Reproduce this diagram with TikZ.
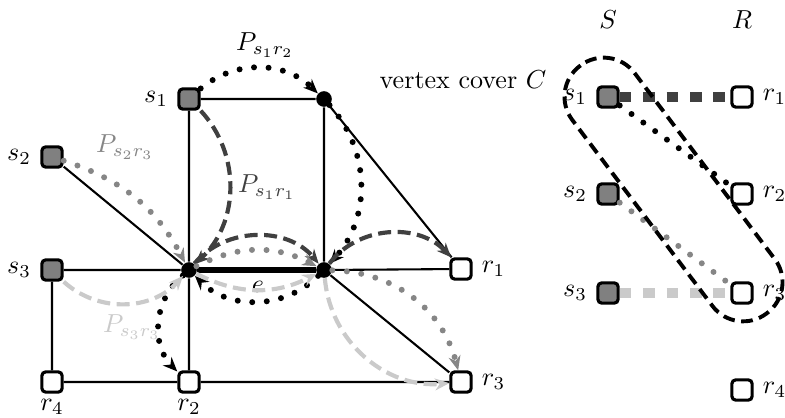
\documentclass[tikz,border=0pt]{standalone}
\usepackage{amsmath,amssymb}
\usepackage{xcolor}
\usepackage{tikz}
\usetikzlibrary{arrows.meta,positioning}
\definecolor{pathdark}{HTML}{404040}
\definecolor{pathmid}{HTML}{868686}
\definecolor{pathlight}{HTML}{CACACA}
\definecolor{srcgray}{HTML}{808080}

\begin{document}
\begin{tikzpicture}[
  x=0.0135cm,y=-0.0135cm,
  src/.style={draw,line width=1.2pt,rounded corners=1.5pt,fill=srcgray,minimum size=7.8pt,inner sep=0pt},
  dst/.style={src,fill=white},
  hub/.style={circle,fill=black,minimum size=6pt,inner sep=0pt},
  edge/.style={line width=0.8pt},
  dotline/.style={line width=2.3pt,line cap=round,dash pattern=on 0pt off 5.6pt},
  dashline/.style={line width=1.6pt,dash pattern=on 5pt off 2.5pt},
  tip/.style={-{Stealth[length=5.5pt,width=4.6pt]}},
  fatdash/.style={line width=3.8pt,dash pattern=on 4.5pt off 4.5pt},
  cover/.style={line width=1.5pt,dash pattern=on 4.5pt off 2.5pt}
]
\useasboundingbox (0,0) rectangle (785,418);

% graph
\node[src,label=left:$s_1$] (s1) at (189,99) {};
\node[hub] (top) at (324,99) {};
\node[src,label=left:$s_2$] (s2) at (52,157) {};
\node[src,label=left:$s_3$] (s3) at (52,270) {};
\node[hub] (mid1) at (189,270) {};
\node[hub] (mid2) at (324,270) {};
\node[dst,label=right:$r_1$] (r1) at (461,269) {};
\node[dst,label={[label distance=-1.2pt]below:$r_4$}] (r4) at (52,382) {};
\node[dst,label={[label distance=-1.2pt]below:$r_2$}] (r2) at (189,382) {};
\node[dst,label=right:$r_3$] (r3) at (461,382) {};

\draw[edge] (s1) -- (top) (s1) -- (mid1) (mid1) -- (r2) (top) -- (mid2)
  (top) -- (r1) (s2) -- (mid1) (s3) -- (mid1) (mid2) -- (r1) (mid2) -- (r3)
  (s3) -- (r4) (r4) -- (r2) (r2) -- (r3);
\draw[line width=2.2pt] (mid1) -- (mid2);
\node (elabel) at (258,287) {$e$};

% P_{s1r2}
\draw[dotline,tip,black] (s1) to[bend left=42] (top);
\draw[dotline,tip,black] (top) to[bend left=42] (mid2);
\draw[dotline,tip,black] (mid2) to[bend left=45] (mid1);
\draw[dotline,tip,black] (mid1) to[bend right=48] (r2);
\node (ps1r2) at (265,45) {$P_{s_1r_2}$};

% P_{s1r1}
\draw[dashline,tip,pathdark] (s1) to[bend left=45] (mid1);
\draw[dashline,tip,pathdark] (mid1) to[bend left=50] (mid2);
\draw[dashline,tip,pathdark] (mid2) to[bend left=50] (r1);
\node[text=pathdark] (ps1r1) at (267,187) {$P_{s_1r_1}$};

% P_{s2r3}
\draw[dotline,tip,pathmid] (s2) to[bend left=22] (mid1);
\draw[dotline,tip,pathmid] (mid1) to[bend left=27] (mid2);
\draw[dotline,tip,pathmid] (mid2) to[bend left=37] (r3);
\node[text=pathmid] (ps2r3) at (125,147) {$P_{s_2r_3}$};

% P_{s3r3}
\draw[dashline,tip,pathlight] (s3) to[bend right=45] (mid1);
\draw[dashline,tip,pathlight] (mid1) to[bend right=27] (mid2);
\draw[dashline,tip,pathlight] (mid2) to[bend right=45] (r3);
\node[text=pathlight] (ps3r3) at (132,327) {$P_{s_3r_3}$};

% bipartite side
\node (Shead) at (608,20) {$S$};
\node (Rhead) at (742,20) {$R$};
\node[src,label=left:$s_1$] (bs1) at (608,97) {};
\node[src,label=left:$s_2$] (bs2) at (608,194) {};
\node[src,label=left:$s_3$] (bs3) at (608,293) {};
\node[dst,label=right:$r_1$] (br1) at (742,97) {};
\node[dst,label=right:$r_2$] (br2) at (742,194) {};
\node[dst,label=right:$r_3$] (br3) at (742,293) {};
\node[dst,label=right:$r_4$] (br4) at (742,390) {};

\draw[fatdash,pathdark] (bs1) -- (br1);
\draw[dotline,black] (bs1) -- (br2);
\draw[dotline,pathmid] (bs2) -- (br3);
\draw[fatdash,pathlight] (bs3) -- (br3);

\coordinate (cc) at (673.5,189.5);
\begin{scope}[shift={(cc)},rotate=-53]
  \draw[cover,rounded corners=0.52cm] (-155,-39) rectangle (155,39);
\end{scope}
\node (covertext) at (463,80) {vertex cover $C$};
\end{tikzpicture}
\end{document}
